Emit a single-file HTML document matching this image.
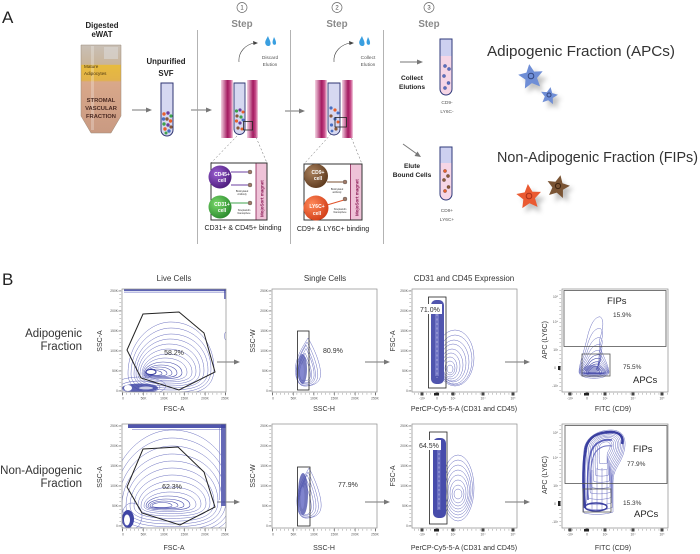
<!DOCTYPE html>
<html><head><meta charset="utf-8">
<style>
html,body{margin:0;padding:0;background:#fff;}
svg{display:block;font-family:"Liberation Sans",sans-serif;}
</style></head><body>
<svg width="700" height="554" viewBox="0 0 700 554" xmlns="http://www.w3.org/2000/svg">
<defs>
 <linearGradient id="mag" x1="0" x2="1" y1="0" y2="0">
  <stop offset="0" stop-color="#f3d2e2"/><stop offset="0.55" stop-color="#a3195f"/><stop offset="0.8" stop-color="#c9508c"/><stop offset="1" stop-color="#f3d2e2"/>
 </linearGradient>
 <linearGradient id="falc" x1="0" x2="0" y1="0" y2="1">
  <stop offset="0" stop-color="#c9c0b6"/><stop offset="0.22" stop-color="#c9b49a"/>
  <stop offset="0.23" stop-color="#e7bb3e"/><stop offset="0.4" stop-color="#e2b24a"/>
  <stop offset="0.42" stop-color="#d9a88a"/><stop offset="1" stop-color="#c99a82"/>
 </linearGradient>
 <radialGradient id="gPur" cx="0.35" cy="0.35" r="0.7"><stop offset="0" stop-color="#9a5ed0"/><stop offset="1" stop-color="#4c1c7c"/></radialGradient>
 <radialGradient id="gGrn" cx="0.35" cy="0.35" r="0.7"><stop offset="0" stop-color="#7ad86a"/><stop offset="1" stop-color="#2a8a2e"/></radialGradient>
 <radialGradient id="gBrn" cx="0.35" cy="0.35" r="0.7"><stop offset="0" stop-color="#a8805c"/><stop offset="1" stop-color="#5e3a1e"/></radialGradient>
 <radialGradient id="gOrg" cx="0.35" cy="0.35" r="0.7"><stop offset="0" stop-color="#ff8a5a"/><stop offset="1" stop-color="#d23e18"/></radialGradient>
 <filter id="blur" x="-50%" y="-50%" width="200%" height="200%"><feGaussianBlur stdDeviation="2.5"/></filter>
 <path id="egg" vector-effect="non-scaling-stroke" d="M-1,0 C-1,-0.6 -0.5,-1 0,-1 C0.6,-1 1,-0.6 1,-0.1 C1,0.3 0.6,0.4 0,0.4 C-0.6,0.4 -1,0.3 -1,0Z"/>
 <path id="tear" vector-effect="non-scaling-stroke" d="M0,-1 C0.3,-0.7 0.9,0 0.9,0.5 C0.9,0.9 0.3,1 -0.2,1 C-0.7,1 -0.9,0.7 -0.9,0.3 C-0.9,-0.2 -0.3,-0.7 0,-1Z"/>
 <path id="flame" vector-effect="non-scaling-stroke" d="M-1,0 C-1,-0.3 -0.7,-0.8 -0.5,-1.3 C-0.3,-1.9 0,-2.3 0.4,-2.3 C0.7,-2.2 0.6,-1.8 0.4,-1.4 C0.2,-1 0.9,-0.5 1,0 C1,0.35 -1,0.35 -1,0Z"/>
 <path id="star" d="M0,-1 L0.3,-0.38 L0.95,-0.31 L0.45,0.14 L0.59,0.81 L0,0.48 L-0.59,0.81 L-0.45,0.14 L-0.95,-0.31 L-0.3,-0.38 Z"/>
 <path id="cres" vector-effect="non-scaling-stroke" d="M584,513 C582,495 582,470 584,450 C585,438 597,430 611,430 C624,430 628,440 623,455 C619,466 613,470 613,482 L613,512 C605,515 592,515 584,513 Z"/>
 <clipPath id="c11"><rect x="122" y="289" width="104" height="103"/></clipPath>
 <clipPath id="c12"><rect x="272" y="289" width="105" height="103"/></clipPath>
 <clipPath id="c13"><rect x="412" y="289" width="105" height="103"/></clipPath>
 <clipPath id="c14"><rect x="562" y="289" width="106" height="103"/></clipPath>
 <clipPath id="c21"><rect x="122" y="424" width="104" height="104"/></clipPath>
 <clipPath id="c22"><rect x="272" y="424" width="105" height="104"/></clipPath>
 <clipPath id="c23"><rect x="412" y="424" width="105" height="104"/></clipPath>
 <clipPath id="c24"><rect x="562" y="424" width="106" height="104"/></clipPath>
</defs>
<rect width="700" height="554" fill="#fff"/>

<!-- ================= PART A ================= -->
<text x="2" y="23" font-size="17" fill="#222">A</text>

<text x="102" y="28" font-size="7.8" font-weight="bold" text-anchor="middle" fill="#222">Digested</text>
<text x="102" y="37" font-size="7.8" font-weight="bold" text-anchor="middle" fill="#222">eWAT</text>
<path d="M81,45 L121,45 L121,116 L111,133 L91,133 L81,116 Z" fill="url(#falc)" stroke="#9a8a7a" stroke-width="0.5"/>
<rect x="104" y="47" width="14" height="12" fill="#d8d4d0" opacity="0.7"/>
<rect x="91" y="46" width="3" height="84" fill="#fff" opacity="0.25"/>
<text x="84" y="68" font-size="4.6" fill="#4a3510">Mature</text>
<text x="84" y="75" font-size="4.6" fill="#4a3510">Adipocytes</text>
<text x="101" y="102" font-size="5.8" font-weight="bold" text-anchor="middle" fill="#4a2a22">STROMAL</text>
<text x="101" y="110" font-size="5.8" font-weight="bold" text-anchor="middle" fill="#4a2a22">VASCULAR</text>
<text x="101" y="118" font-size="5.8" font-weight="bold" text-anchor="middle" fill="#4a2a22">FRACTION</text>

<g stroke="#777" stroke-width="1" fill="#777">
 <line x1="132" y1="110" x2="148" y2="110"/><path d="M152,110 L146,107.5 L146,112.5Z" stroke="none"/>
 <line x1="191" y1="110" x2="208" y2="110"/><path d="M212,110 L206,107.5 L206,112.5Z" stroke="none"/>
 <line x1="285" y1="111" x2="301" y2="111"/><path d="M305,111 L299,108.5 L299,113.5Z" stroke="none"/>
 <line x1="400" y1="62" x2="418" y2="62"/><path d="M423,62 L417,59.5 L417,64.5Z" stroke="none"/>
 <line x1="403" y1="144" x2="417" y2="154"/><path d="M421,157 L414.5,156 L417.5,151.5Z" stroke="none"/>
</g>

<text x="166" y="64" font-size="7.8" font-weight="bold" text-anchor="middle" fill="#222">Unpurified</text>
<text x="166" y="76" font-size="7.8" font-weight="bold" text-anchor="middle" fill="#222">SVF</text>
<path d="M161,83 L161,130 A6,6 0 0 0 173,130 L173,83 Z" fill="#d6d8f1" stroke="#2f3572" stroke-width="1"/>
<g>
 <circle cx="164" cy="114" r="1.7" fill="#e8602c"/><circle cx="168" cy="113" r="1.7" fill="#6b3fa0"/><circle cx="171" cy="116" r="1.6" fill="#3fa34d"/>
 <circle cx="163.5" cy="119" r="1.7" fill="#4a6fc0"/><circle cx="167" cy="119" r="1.7" fill="#8a5a3a"/><circle cx="170.5" cy="121" r="1.7" fill="#e8602c"/>
 <circle cx="164" cy="124" r="1.7" fill="#3fa34d"/><circle cx="168" cy="125" r="1.7" fill="#6b3fa0"/><circle cx="171" cy="127" r="1.6" fill="#8a5a3a"/>
 <circle cx="165" cy="129" r="1.7" fill="#e8602c"/><circle cx="169" cy="131" r="1.7" fill="#4a6fc0"/><circle cx="166" cy="133" r="1.5" fill="#3fa34d"/>
</g>

<!-- dividers -->
<g stroke="#a0a0a0" stroke-width="0.8">
 <line x1="197.5" y1="30" x2="197.5" y2="244"/>
 <line x1="290.5" y1="30" x2="290.5" y2="244"/>
 <line x1="383.5" y1="30" x2="383.5" y2="244"/>
</g>

<!-- step headers -->
<g fill="none" stroke="#666" stroke-width="0.7">
 <circle cx="242" cy="7.5" r="5"/><circle cx="337" cy="7.5" r="5"/><circle cx="429" cy="7.5" r="5"/>
</g>
<g font-size="6" fill="#444" text-anchor="middle">
 <text x="242" y="9.7">1</text><text x="337" y="9.7">2</text><text x="429" y="9.7">3</text>
</g>
<g font-size="9.8" font-weight="bold" fill="#8a8a8a" text-anchor="middle">
 <text x="242" y="27">Step</text><text x="337" y="27">Step</text><text x="429" y="27">Step</text>
</g>

<!-- elution arrows & drops -->
<g fill="none" stroke="#444" stroke-width="0.6">
 <path d="M239,62 C238,52 246,44 255,43"/>
 <path d="M334,62 C333,52 341,44 351,43"/>
</g>
<path d="M258,43 L253,41 L253.5,45Z" fill="#444"/>
<path d="M354,43 L349,41 L349.5,45Z" fill="#444"/>
<g fill="#3a9fe0">
 <path d="M268,36 C266,40 264,42 266,45 C268,47 271,46 270.5,43 C270.5,41 269,39 268,36Z"/>
 <path d="M274,37 C273,40 272,42 273,44 C274,45.5 276.5,45 276,42.5 C276,41 275,39 274,37Z"/>
 <path d="M362,36 C360,40 358,42 360,45 C362,47 365,46 364.5,43 C364.5,41 363,39 362,36Z"/>
 <path d="M368,37 C367,40 366,42 367,44 C368,45.5 370.5,45 370,42.5 C370,41 369,39 368,37Z"/>
</g>
<g font-size="4.8" fill="#555" text-anchor="middle">
 <text x="270" y="59">Discard</text><text x="270" y="66">Elution</text>
 <text x="368" y="59">Collect</text><text x="368" y="66">Elution</text>
</g>

<!-- Step 1 magnet -->
<rect x="221" y="80" width="12" height="58" fill="url(#mag)"/>
<rect x="247" y="80" width="11" height="58" fill="url(#mag)"/>
<path d="M234,83 L234,129 A5.5,5.5 0 0 0 245,129 L245,83 Z" fill="#d6d8f1" stroke="#2f3572" stroke-width="0.9"/>
<g>
 <circle cx="236.5" cy="111" r="1.6" fill="#3fa34d"/><circle cx="240" cy="110" r="1.6" fill="#6b3fa0"/><circle cx="243" cy="112" r="1.5" fill="#e8602c"/>
 <circle cx="237" cy="116" r="1.6" fill="#8a5a3a"/><circle cx="241" cy="117" r="1.6" fill="#3fa34d"/><circle cx="236.5" cy="121" r="1.6" fill="#e8602c"/>
 <circle cx="240" cy="123" r="1.6" fill="#6b3fa0"/><circle cx="243" cy="120" r="1.5" fill="#4a6fc0"/><circle cx="238" cy="128" r="1.6" fill="#8a5a3a"/><circle cx="242" cy="129" r="1.5" fill="#e8602c"/>
</g>
<rect x="243.5" y="121.5" width="9" height="8.5" fill="none" stroke="#222" stroke-width="0.8"/>
<g stroke="#666" stroke-width="0.5" stroke-dasharray="2 2">
 <line x1="237" y1="136" x2="211" y2="163"/><line x1="253" y1="130" x2="267" y2="163"/>
 <line x1="331" y1="134" x2="304" y2="164"/><line x1="347" y1="127" x2="362" y2="164"/>
</g>

<!-- zoom box 1 -->
<rect x="211" y="163" width="56" height="57" fill="#fff" stroke="#333" stroke-width="1"/>
<rect x="256" y="163.5" width="10.5" height="56" fill="#efc3d8"/>
<line x1="256" y1="163.5" x2="256" y2="219.5" stroke="#8a1a50" stroke-width="0.8"/>
<text transform="translate(263.5,217) rotate(-90)" font-size="4.5" font-weight="bold" fill="#8a1a55">MojoSort magnet</text>
<g stroke="#6b3fa0" stroke-width="1.1"><line x1="231" y1="172" x2="248" y2="172"/><line x1="231" y1="185" x2="248" y2="185"/></g>
<g stroke="#3fa34d" stroke-width="1.1"><line x1="231" y1="203" x2="248" y2="203"/></g>
<g fill="#a07a68" stroke="#555" stroke-width="0.4"><circle cx="250" cy="172" r="2"/><circle cx="250" cy="185" r="2"/><circle cx="250" cy="203" r="2"/></g>
<circle cx="220" cy="177" r="11.5" fill="url(#gPur)"/>
<circle cx="220" cy="207" r="11.5" fill="url(#gGrn)"/>
<g font-size="5" font-weight="bold" fill="#fff" text-anchor="middle">
 <text x="222" y="176">CD45+</text><text x="222" y="182">cell</text>
 <text x="222" y="206">CD31+</text><text x="222" y="212">cell</text>
</g>
<g font-size="2.4" fill="#333" text-anchor="middle">
 <text x="242" y="192">Biotinylated</text><text x="242" y="195">Antibody</text>
 <text x="244" y="211">Streptavidin</text><text x="244" y="214">Nanosphere</text>
</g>
<text x="243" y="230" font-size="7" text-anchor="middle" fill="#222">CD31+ &amp; CD45+ binding</text>

<!-- Step 2 magnet -->
<rect x="315" y="80" width="12" height="58" fill="url(#mag)"/>
<rect x="342" y="80" width="11" height="58" fill="url(#mag)"/>
<path d="M328,83 L328,129 A6,6 0 0 0 340,129 L340,83 Z" fill="#d6d8f1" stroke="#2f3572" stroke-width="0.9"/>
<g>
 <circle cx="331" cy="108" r="1.6" fill="#4a6fc0"/><circle cx="335" cy="110" r="1.6" fill="#e8602c"/><circle cx="338" cy="113" r="1.5" fill="#4a6fc0"/>
 <circle cx="331" cy="116" r="1.6" fill="#8a5a3a"/><circle cx="335" cy="119" r="1.6" fill="#4a6fc0"/><circle cx="338" cy="122" r="1.5" fill="#e8602c"/>
 <circle cx="331.5" cy="125" r="1.6" fill="#4a6fc0"/><circle cx="336" cy="129" r="1.6" fill="#8a5a3a"/><circle cx="332" cy="131" r="1.4" fill="#4a6fc0"/>
</g>
<rect x="335" y="117.5" width="11.5" height="9.5" fill="none" stroke="#222" stroke-width="0.8"/>

<!-- zoom box 2 -->
<rect x="304" y="164" width="58" height="56" fill="#fff" stroke="#333" stroke-width="1"/>
<rect x="350.5" y="164.5" width="11" height="55" fill="#efc3d8"/>
<line x1="350.5" y1="164.5" x2="350.5" y2="219.5" stroke="#8a1a50" stroke-width="0.8"/>
<text transform="translate(358.5,216) rotate(-90)" font-size="4.5" font-weight="bold" fill="#8a1a55">MojoSort magnet</text>
<g stroke="#7a4f2f" stroke-width="1.1"><line x1="327" y1="182" x2="344" y2="182"/></g>
<g stroke="#e0532a" stroke-width="1.1"><line x1="327" y1="205" x2="344" y2="200"/></g>
<g fill="#a07a68" stroke="#555" stroke-width="0.4"><circle cx="345" cy="182" r="2"/><circle cx="345" cy="199" r="2"/></g>
<circle cx="316" cy="176" r="12" fill="url(#gBrn)"/>
<circle cx="316" cy="208" r="12.5" fill="url(#gOrg)"/>
<g font-size="5" font-weight="bold" fill="#fff" text-anchor="middle">
 <text x="318" y="174">CD9+</text><text x="318" y="180">cell</text>
 <text x="317" y="208">LY6C+</text><text x="317" y="215">cell</text>
</g>
<g font-size="2.4" fill="#333" text-anchor="middle">
 <text x="337" y="190">Biotinylated</text><text x="337" y="193">antibody</text>
 <text x="340" y="210">Streptavidin</text><text x="340" y="213">Nanosphere</text>
</g>
<text x="333" y="231" font-size="7" text-anchor="middle" fill="#222">CD9+ &amp; LY6C+ binding</text>

<!-- Step 3 -->
<g font-size="6.6" font-weight="bold" text-anchor="middle" fill="#222">
 <text x="412" y="80">Collect</text><text x="412" y="89">Elutions</text>
 <text x="412" y="168">Elute</text><text x="412" y="177">Bound Cells</text>
</g>
<path d="M440,39 L440,89 A6,6 0 0 0 452,89 L452,39 Z" fill="#cdd0f0"/>
<path d="M440,56 L440,89 A6,6 0 0 0 452,89 L452,56 Z" fill="#f6d6e6"/>
<path d="M440,39 L440,89 A6,6 0 0 0 452,89 L452,39 Z" fill="none" stroke="#2f3a7a" stroke-width="1"/>
<g fill="#5a6fc0" stroke="#2f3a7a" stroke-width="0.3">
 <circle cx="445" cy="66" r="1.6"/><circle cx="449" cy="69" r="1.6"/><circle cx="444" cy="76" r="1.6"/><circle cx="448.5" cy="83" r="1.6"/><circle cx="445" cy="88" r="1.6"/>
</g>
<path d="M440,147 L440,194 A6,6 0 0 0 452,194 L452,147 Z" fill="#cdd0f0"/>
<path d="M440,163 L440,194 A6,6 0 0 0 452,194 L452,163 Z" fill="#f6d6e6"/>
<path d="M440,147 L440,194 A6,6 0 0 0 452,194 L452,147 Z" fill="none" stroke="#2f3a7a" stroke-width="1"/>
<g stroke="#3a2a20" stroke-width="0.3">
 <circle cx="445" cy="171" r="1.6" fill="#e8602c"/><circle cx="448" cy="176" r="1.6" fill="#8a5a3a"/><circle cx="444" cy="180" r="1.6" fill="#8a5a3a"/><circle cx="448.5" cy="187" r="1.6" fill="#8a5a3a"/><circle cx="445" cy="191" r="1.6" fill="#e8602c"/>
</g>
<g font-size="4.8" fill="#555" text-anchor="middle">
 <text x="447" y="104">CD9-</text><text x="447" y="113">LY6C-</text>
 <text x="447" y="212">CD9+</text><text x="447" y="221">LY6C+</text>
</g>

<text x="487" y="56" font-size="14.5" fill="#333" textLength="188" lengthAdjust="spacingAndGlyphs">Adipogenic Fraction (APCs)</text>
<text x="497" y="162" font-size="14.5" fill="#333" textLength="201" lengthAdjust="spacingAndGlyphs">Non-Adipogenic Fraction (FIPs)</text>

<!-- cells (stars) -->
<g fill="#777" opacity="0.45" filter="url(#blur)">
 <use href="#star" transform="translate(535,82) scale(13)"/>
 <use href="#star" transform="translate(553,101) scale(9)"/>
 <use href="#star" transform="translate(533,202) scale(13)"/>
 <use href="#star" transform="translate(562,192) scale(12)"/>
</g>
<use href="#star" transform="translate(531,77) rotate(-8) scale(13)" fill="#6f8ed6"/>
<use href="#star" transform="translate(549,96) rotate(10) scale(9)" fill="#6f8ed6"/>
<use href="#star" transform="translate(529,197) rotate(-5) scale(13)" fill="#ea5a32"/>
<use href="#star" transform="translate(558,187) rotate(12) scale(12)" fill="#7a5434"/>
<g fill="none" stroke-width="1">
 <circle cx="531" cy="76" r="2.8" stroke="#33467e"/><circle cx="549" cy="95" r="2" stroke="#33467e"/>
 <circle cx="529" cy="196" r="2.8" stroke="#a8301a"/><circle cx="558" cy="186" r="2.6" stroke="#3e2410"/>
</g>

<!-- ================= PART B ================= -->
<text x="2" y="285" font-size="17" fill="#222">B</text>

<g font-size="11.5" fill="#333" text-anchor="end">
 <text x="82" y="337">Adipogenic</text><text x="82" y="350">Fraction</text>
 <text x="82" y="474">Non-Adipogenic</text><text x="82" y="487">Fraction</text>
</g>

<g font-size="8" fill="#333" text-anchor="middle">
 <text x="174" y="281">Live Cells</text>
 <text x="325" y="281">Single Cells</text>
 <text x="464" y="281">CD31 and CD45 Expression</text>
</g>

<!-- axis labels -->
<g font-size="7" fill="#333" text-anchor="middle">
 <text x="174" y="411">FSC-A</text><text x="324" y="411">SSC-H</text><text x="464" y="411">PerCP-Cy5-5-A (CD31 and CD45)</text><text x="613" y="411">FITC (CD9)</text>
 <text x="174" y="550">FSC-A</text><text x="324" y="550">SSC-H</text><text x="464" y="550">PerCP-Cy5-5-A (CD31 and CD45)</text><text x="613" y="550">FITC (CD9)</text>
 <text transform="translate(102,341) rotate(-90)">SSC-A</text>
 <text transform="translate(255,341) rotate(-90)">SSC-W</text>
 <text transform="translate(395,341) rotate(-90)">FSC-A</text>
 <text transform="translate(547,340) rotate(-90)">APC (LY6C)</text>
 <text transform="translate(102,477) rotate(-90)">SSC-A</text>
 <text transform="translate(255,476) rotate(-90)">SSC-W</text>
 <text transform="translate(395,476) rotate(-90)">FSC-A</text>
 <text transform="translate(547,475) rotate(-90)">APC (LY6C)</text>
</g>

<!-- arrows B -->
<g stroke="#777" stroke-width="1" fill="#777">
 <line x1="217" y1="362" x2="235" y2="362"/><path d="M240,362 L234,359.5 L234,364.5Z" stroke="none"/>
 <line x1="365" y1="362" x2="385" y2="362"/><path d="M390,362 L384,359.5 L384,364.5Z" stroke="none"/>
 <line x1="505" y1="362" x2="525" y2="362"/><path d="M530,362 L524,359.5 L524,364.5Z" stroke="none"/>
 <line x1="217" y1="502" x2="235" y2="502"/><path d="M240,502 L234,499.5 L234,504.5Z" stroke="none"/>
 <line x1="365" y1="502" x2="385" y2="502"/><path d="M390,502 L384,499.5 L384,504.5Z" stroke="none"/>
 <line x1="505" y1="502" x2="525" y2="502"/><path d="M530,502 L524,499.5 L524,504.5Z" stroke="none"/>
</g>

<!-- ===== Plot contents row 1 ===== -->
<g clip-path="url(#c11)">
 <rect x="124" y="289" width="102" height="2.2" fill="#4046a6" opacity="0.85"/>
 <line x1="124" y1="292.5" x2="226" y2="292.5" stroke="#7a7fc8" stroke-width="0.5"/>
 <rect x="224" y="289" width="2" height="10" fill="#4046a6" opacity="0.7"/>
 <ellipse cx="226" cy="336" rx="1.5" ry="4" fill="none" stroke="#6166bb" stroke-width="0.5"/>
 <g fill="none" stroke="#6a6fc0" stroke-width="0.5">
  <use href="#egg" transform="translate(171,374) scale(43,52)"/>
  <use href="#egg" transform="translate(171,374) scale(40,46)"/>
  <use href="#egg" transform="translate(171,374) scale(37,40)"/>
  <use href="#egg" transform="translate(170,374) scale(34,35)"/>
  <use href="#egg" transform="translate(169,374) scale(31,30)"/>
  <use href="#egg" transform="translate(168,374) scale(28,25)"/>
  <use href="#egg" transform="translate(167,374) scale(25,20)"/>
  <use href="#egg" transform="translate(165,374) scale(22,16)"/>
 </g>
 <g fill="none" stroke="#4c51ad" stroke-width="0.6">
  <use href="#egg" transform="translate(163,374) scale(19,12)"/>
  <use href="#egg" transform="translate(161,374) scale(16,9)"/>
  <use href="#egg" transform="translate(159,374) scale(13,7)"/>
  <use href="#egg" transform="translate(157,374) scale(10,5)"/>
  <use href="#egg" transform="translate(155,374) scale(7,3.5)"/>
 </g>
 <ellipse cx="151" cy="372" rx="5" ry="2.6" fill="#fff" stroke="#3c41a0" stroke-width="1.1"/>
 <ellipse cx="140" cy="386" rx="26" ry="9" fill="none" stroke="#6a6fc0" stroke-width="0.5"/>
 <ellipse cx="140" cy="387" rx="20" ry="6" fill="none" stroke="#5257b2" stroke-width="0.5"/>
 <ellipse cx="140" cy="388" rx="18" ry="4.5" fill="#4046a6" opacity="0.85"/>
 <ellipse cx="128" cy="388" rx="4" ry="3" fill="#fff"/>
 <ellipse cx="146" cy="388" rx="7" ry="1.5" fill="#fff" opacity="0.7"/>
</g>
<path d="M143,314 L179,312 L204,333 L215,372 L179,390 L141,378 L127,350 Z" fill="none" stroke="#222" stroke-width="1"/>
<text x="174" y="355" font-size="7" text-anchor="middle" fill="#333">58.2%</text>

<g clip-path="url(#c12)">
 <g fill="none" stroke="#6a6fc0" stroke-width="0.5">
  <use href="#tear" transform="translate(308,362) scale(14,24)"/>
  <use href="#tear" transform="translate(307,364) scale(12,22)"/>
  <use href="#tear" transform="translate(306,365) scale(10.5,20)"/>
  <use href="#tear" transform="translate(306,366) scale(9,17.5)"/>
  <use href="#tear" transform="translate(305,368) scale(7.5,15)"/>
  <use href="#tear" transform="translate(305,369) scale(6,12)"/>
 </g>
 <ellipse cx="302.5" cy="369" rx="4.5" ry="15" fill="#4f54ad" opacity="0.75"/>
 <ellipse cx="302" cy="372" rx="2" ry="8" fill="#8a8ed8" opacity="0.6"/>
</g>
<rect x="297.5" y="331" width="11.5" height="59" fill="none" stroke="#222" stroke-width="0.8"/>
<text x="323" y="353" font-size="7" fill="#333">80.9%</text>

<g clip-path="url(#c13)">
 <g fill="none" stroke="#6a6fc0" stroke-width="0.5">
  <ellipse cx="455" cy="358" rx="19" ry="28"/>
  <ellipse cx="455" cy="360" rx="17" ry="25"/>
  <ellipse cx="454" cy="362" rx="15" ry="22"/>
  <ellipse cx="453" cy="363" rx="13" ry="19"/>
  <ellipse cx="452" cy="365" rx="11" ry="16"/>
  <ellipse cx="451" cy="366" rx="9" ry="13"/>
  <ellipse cx="450" cy="367" rx="7" ry="10"/>
  <ellipse cx="450" cy="368" rx="5" ry="7"/>
  <ellipse cx="450" cy="369" rx="3" ry="4"/>
 </g>
 <rect x="431" y="300" width="13" height="84" rx="5" fill="#5055ae"/>
 <rect x="435" y="306" width="4" height="70" fill="#8c90d8" opacity="0.55"/>
 <line x1="437" y1="305" x2="437" y2="378" stroke="#fff" stroke-width="0.4" stroke-dasharray="2 2.5"/>
</g>
<rect x="428.5" y="297" width="17.5" height="91" fill="none" stroke="#222" stroke-width="0.8"/>
<rect x="419" y="304" width="23" height="10" fill="#fff"/>
<text x="420" y="312" font-size="7" fill="#333">71.0%</text>

<g clip-path="url(#c14)">
 <g fill="none" stroke="#6a6fc0" stroke-width="0.5">
  <use href="#flame" transform="translate(594,372) scale(15,24)"/>
  <use href="#flame" transform="translate(594,372) scale(14.5,19)"/>
  <use href="#flame" transform="translate(594,372) scale(14,15)"/>
  <use href="#flame" transform="translate(594,372) scale(13.5,12)"/>
  <use href="#flame" transform="translate(594,372) scale(13,9.5)"/>
 </g>
 <g fill="none" stroke="#4c51ad" stroke-width="0.6">
  <use href="#flame" transform="translate(594,372) scale(12,7.5)"/>
  <use href="#flame" transform="translate(594,372) scale(11,6)"/>
  <use href="#flame" transform="translate(594,372) scale(9.5,4.5)"/>
  <use href="#flame" transform="translate(594,372) scale(8,3.5)"/>
  <use href="#flame" transform="translate(594,372) scale(6,2.5)"/>
 </g>
 <ellipse cx="592" cy="369" rx="8" ry="4" fill="#5055ae" opacity="0.55"/>
</g>
<rect x="564" y="290.5" width="102" height="56" fill="none" stroke="#555" stroke-width="0.8"/>
<rect x="582" y="354" width="28" height="22" fill="none" stroke="#555" stroke-width="0.8"/>
<text x="607" y="304" font-size="9.5" fill="#222">FIPs</text>
<text x="613" y="317" font-size="6.5" fill="#333">15.9%</text>
<text x="623" y="369" font-size="6.5" fill="#333">75.5%</text>
<text x="633" y="383" font-size="9.5" fill="#222">APCs</text>

<!-- ===== Plot contents row 2 ===== -->
<g clip-path="url(#c21)">
 <rect x="128" y="424" width="99" height="4" fill="#3e44a4" opacity="0.9"/>
 <line x1="132" y1="429.5" x2="222" y2="429.5" stroke="#6a6fc0" stroke-width="0.5"/>
 <rect x="221" y="424" width="6" height="82" fill="#3e44a4" opacity="0.8"/>
 <line x1="219.5" y1="428" x2="219.5" y2="500" stroke="#6a6fc0" stroke-width="0.5"/>
 <g fill="none" stroke="#6a6fc0" stroke-width="0.5">
  <use href="#egg" transform="translate(172,506) scale(62,76)"/>
  <use href="#egg" transform="translate(172,506) scale(58,68)"/>
  <use href="#egg" transform="translate(172,506) scale(54,60)"/>
  <use href="#egg" transform="translate(172,506) scale(50,52)"/>
  <use href="#egg" transform="translate(172,506) scale(46,45)"/>
  <use href="#egg" transform="translate(172,506) scale(42,38)"/>
  <use href="#egg" transform="translate(172,506) scale(38,31)"/>
  <use href="#egg" transform="translate(172,506) scale(34,25)"/>
  <use href="#egg" transform="translate(171,506) scale(30,19)"/>
  <use href="#egg" transform="translate(170,506) scale(26,14)"/>
 </g>
 <g fill="none" stroke="#4c51ad" stroke-width="0.6">
  <use href="#egg" transform="translate(168,506) scale(22,10)"/>
  <use href="#egg" transform="translate(166,506) scale(18,7)"/>
  <use href="#egg" transform="translate(164,506) scale(14,5)"/>
  <use href="#egg" transform="translate(162,506) scale(10,3.5)"/>
 </g>
 <ellipse cx="128" cy="519" rx="6" ry="9" fill="#3e44a4"/>
 <ellipse cx="127" cy="520" rx="3" ry="5.5" fill="#fff"/>
 <ellipse cx="132" cy="516" rx="10" ry="13" fill="none" stroke="#6a6fc0" stroke-width="0.5"/>
</g>
<path d="M143,449 L178,447 L204,472 L215,507 L180,525 L142,513 L127,487 Z" fill="none" stroke="#222" stroke-width="1"/>
<text x="172" y="489" font-size="7" text-anchor="middle" fill="#333">62.3%</text>

<g clip-path="url(#c22)">
 <g fill="none" stroke="#6a6fc0" stroke-width="0.5">
  <use href="#tear" transform="translate(309,493) scale(13.5,25)"/>
  <use href="#tear" transform="translate(308,495) scale(11.5,23)"/>
  <use href="#tear" transform="translate(307,496) scale(10,21)"/>
  <use href="#tear" transform="translate(306,497) scale(8.5,18.5)"/>
  <use href="#tear" transform="translate(305,499) scale(7,16)"/>
 </g>
 <ellipse cx="303" cy="494" rx="5" ry="21" fill="#4f54ad" opacity="0.8"/>
 <ellipse cx="302.5" cy="498" rx="2" ry="11" fill="#8a8ed8" opacity="0.6"/>
</g>
<rect x="297.5" y="467" width="12.5" height="59" fill="none" stroke="#222" stroke-width="0.8"/>
<text x="338" y="487" font-size="7" fill="#333">77.9%</text>

<g clip-path="url(#c23)">
 <g fill="none" stroke="#6a6fc0" stroke-width="0.5">
  <ellipse cx="458" cy="488" rx="16" ry="33"/>
  <ellipse cx="458" cy="489" rx="14.5" ry="29"/>
  <ellipse cx="458" cy="490" rx="13" ry="25"/>
  <ellipse cx="458" cy="491" rx="11.5" ry="21"/>
  <ellipse cx="458" cy="492" rx="10" ry="17"/>
  <ellipse cx="458" cy="493" rx="8" ry="13"/>
  <ellipse cx="458" cy="494" rx="6" ry="9"/>
  <ellipse cx="458" cy="494" rx="4" ry="5"/>
 </g>
 <rect x="433" y="438" width="13" height="80" rx="5" fill="#474cab"/>
 <rect x="437" y="444" width="3.5" height="66" fill="#8c90d8" opacity="0.5"/>
 <line x1="439" y1="444" x2="439" y2="510" stroke="#fff" stroke-width="0.4" stroke-dasharray="2 2.5"/>
</g>
<rect x="429.5" y="432" width="17.5" height="92" fill="none" stroke="#222" stroke-width="0.8"/>
<rect x="418" y="440" width="23" height="10" fill="#fff"/>
<text x="419" y="448" font-size="7" fill="#333">64.5%</text>

<g clip-path="url(#c24)">
 <g fill="none" stroke="#6a6fc0" stroke-width="0.5">
  <use href="#cres"/>
  <use href="#cres" transform="translate(605,446) scale(0.93) translate(-605,-446)"/>
  <use href="#cres" transform="translate(605,446) scale(0.86) translate(-605,-446)"/>
  <use href="#cres" transform="translate(605,446) scale(0.78) translate(-605,-446)"/>
  <use href="#cres" transform="translate(605,446) scale(0.70) translate(-605,-446)"/>
  <use href="#cres" transform="translate(605,446) scale(0.62) translate(-605,-446)"/>
  <use href="#cres" transform="translate(605,446) scale(0.53) translate(-605,-446)"/>
  <use href="#cres" transform="translate(605,446) scale(0.44) translate(-605,-446)"/>
  <use href="#cres" transform="translate(605,446) scale(0.35) translate(-605,-446)"/>
  <use href="#cres" transform="translate(605,446) scale(0.26) translate(-605,-446)"/>
  <line x1="592" y1="470" x2="592" y2="510"/><line x1="597" y1="468" x2="597" y2="511"/>
  <line x1="602" y1="468" x2="602" y2="511"/><line x1="607" y1="470" x2="607" y2="510"/>
 </g>
 <path d="M585,508 C583,485 583,462 586,447 C589,437 598,432 611,432 C620,432 624,437 622,444" fill="none" stroke="#3a3fa0" stroke-width="2.6"/>
 <path d="M588,500 C587,480 588,462 591,452 C594,443 602,439 612,440" fill="none" stroke="#5a5fb8" stroke-width="1.6"/>
 <path d="M591,490 C590,475 591,462 594,455 C597,448 604,445 612,446" fill="none" stroke="#6a6fc0" stroke-width="1"/>
 <ellipse cx="596" cy="507" rx="11" ry="4" fill="none" stroke="#3a3fa0" stroke-width="1.4"/>
</g>
<rect x="565" y="425.5" width="102" height="58" fill="none" stroke="#555" stroke-width="0.8"/>
<rect x="583" y="489" width="28" height="23" fill="none" stroke="#555" stroke-width="0.8"/>
<text x="633" y="452" font-size="9.5" fill="#222">FIPs</text>
<text x="627" y="466" font-size="6.5" fill="#333">77.9%</text>
<text x="623" y="505" font-size="6.5" fill="#333">15.3%</text>
<text x="634" y="517" font-size="9.5" fill="#222">APCs</text>

<!-- ===== frames, ticks ===== -->
<g fill="none" stroke="#8c8c8c" stroke-width="0.7">
 <rect x="122" y="289" width="104" height="103"/><rect x="272" y="289" width="105" height="103"/>
 <rect x="412" y="289" width="105" height="103"/><rect x="562" y="289" width="106" height="103"/>
 <rect x="122" y="424" width="104" height="104"/><rect x="272" y="424" width="105" height="104"/>
 <rect x="412" y="424" width="105" height="104"/><rect x="562" y="424" width="106" height="104"/>
</g>
<g stroke="#777" stroke-width="1.8" stroke-dasharray="0.4 3.72">
 <line x1="122" y1="393.8" x2="226" y2="393.8"/><line x1="272" y1="393.8" x2="377" y2="393.8"/>
 <line x1="414" y1="393.8" x2="517" y2="393.8"/><line x1="564" y1="393.8" x2="668" y2="393.8"/>
 <line x1="122" y1="529.8" x2="226" y2="529.8"/><line x1="272" y1="529.8" x2="377" y2="529.8"/>
 <line x1="414" y1="529.8" x2="517" y2="529.8"/><line x1="564" y1="529.8" x2="668" y2="529.8"/>
</g>
<g stroke="#777" stroke-width="1.8" stroke-dasharray="0.4 3.6">
 <line x1="120.2" y1="391" x2="120.2" y2="289"/><line x1="270.2" y1="391" x2="270.2" y2="289"/>
 <line x1="410.2" y1="391" x2="410.2" y2="289"/><line x1="560.2" y1="391" x2="560.2" y2="289"/>
 <line x1="120.2" y1="526" x2="120.2" y2="424"/><line x1="270.2" y1="526" x2="270.2" y2="424"/>
 <line x1="410.2" y1="526" x2="410.2" y2="424"/><line x1="560.2" y1="526" x2="560.2" y2="424"/>
</g>
<g stroke="#444" stroke-width="3" stroke-dasharray="0.5 20.1">
 <line x1="122.5" y1="394" x2="227" y2="394"/><line x1="272.5" y1="394" x2="378" y2="394"/>
 <line x1="122.5" y1="530" x2="227" y2="530"/><line x1="272.5" y1="530" x2="378" y2="530"/>
</g>
<g stroke="#444" stroke-width="3" stroke-dasharray="0.5 19.5">
 <line x1="119.8" y1="391.3" x2="119.8" y2="288"/><line x1="269.8" y1="391.3" x2="269.8" y2="288"/><line x1="409.8" y1="391.3" x2="409.8" y2="288"/>
 <line x1="119.8" y1="526.3" x2="119.8" y2="423"/><line x1="269.8" y1="526.3" x2="269.8" y2="423"/><line x1="409.8" y1="526.3" x2="409.8" y2="423"/>
</g>
<g stroke="#444" stroke-width="3">
 <line x1="422" y1="392.5" x2="422" y2="395.5"/><line x1="437" y1="392.5" x2="437" y2="395.5"/><line x1="453" y1="392.5" x2="453" y2="395.5"/><line x1="483" y1="392.5" x2="483" y2="395.5"/><line x1="513" y1="392.5" x2="513" y2="395.5"/>
 <line x1="570" y1="392.5" x2="570" y2="395.5"/><line x1="587" y1="392.5" x2="587" y2="395.5"/><line x1="605" y1="392.5" x2="605" y2="395.5"/><line x1="633" y1="392.5" x2="633" y2="395.5"/><line x1="662" y1="392.5" x2="662" y2="395.5"/>
 <line x1="422" y1="528.5" x2="422" y2="531.5"/><line x1="437" y1="528.5" x2="437" y2="531.5"/><line x1="453" y1="528.5" x2="453" y2="531.5"/><line x1="483" y1="528.5" x2="483" y2="531.5"/><line x1="513" y1="528.5" x2="513" y2="531.5"/>
 <line x1="570" y1="528.5" x2="570" y2="531.5"/><line x1="587" y1="528.5" x2="587" y2="531.5"/><line x1="605" y1="528.5" x2="605" y2="531.5"/><line x1="633" y1="528.5" x2="633" y2="531.5"/><line x1="662" y1="528.5" x2="662" y2="531.5"/>
</g>
<g fill="#222">
 <rect x="434" y="393" width="5" height="2.5"/><rect x="584" y="393" width="5" height="2.5"/><rect x="558" y="366" width="2.5" height="4"/>
 <rect x="434" y="529" width="5" height="2.5"/><rect x="584" y="529" width="5" height="2.5"/><rect x="558" y="501" width="2.5" height="5"/>
</g>

<g font-size="3.3" fill="#555" text-anchor="end">
 <text x="118" y="392">0</text><text x="118" y="372">50K</text><text x="118" y="352">100K</text><text x="118" y="332">150K</text><text x="118" y="312">200K</text><text x="118" y="292">250K</text>
 <text x="268" y="392">0</text><text x="268" y="372">50K</text><text x="268" y="352">100K</text><text x="268" y="332">150K</text><text x="268" y="312">200K</text><text x="268" y="292">250K</text>
 <text x="408" y="392">0</text><text x="408" y="372">50K</text><text x="408" y="352">100K</text><text x="408" y="332">150K</text><text x="408" y="312">200K</text><text x="408" y="292">250K</text>
 <text x="558" y="298">10⁵</text><text x="558" y="323">10⁴</text><text x="558" y="351">10³</text><text x="556" y="369">0</text><text x="558" y="387">-10³</text>
 <text x="118" y="527">0</text><text x="118" y="507">50K</text><text x="118" y="487">100K</text><text x="118" y="467">150K</text><text x="118" y="447">200K</text><text x="118" y="427">250K</text>
 <text x="268" y="527">0</text><text x="268" y="507">50K</text><text x="268" y="487">100K</text><text x="268" y="467">150K</text><text x="268" y="447">200K</text><text x="268" y="427">250K</text>
 <text x="408" y="527">0</text><text x="408" y="507">50K</text><text x="408" y="487">100K</text><text x="408" y="467">150K</text><text x="408" y="447">200K</text><text x="408" y="427">250K</text>
 <text x="558" y="434">10⁵</text><text x="558" y="459">10⁴</text><text x="558" y="487">10³</text><text x="556" y="505">0</text><text x="558" y="523">-10³</text>
</g>
<g font-size="3.3" fill="#555" text-anchor="middle">
 <text x="123" y="399.5">0</text><text x="143.5" y="399.5">50K</text><text x="164" y="399.5">100K</text><text x="184.5" y="399.5">150K</text><text x="205" y="399.5">200K</text><text x="225" y="399.5">250K</text>
 <text x="273" y="399.5">0</text><text x="293.5" y="399.5">50K</text><text x="314" y="399.5">100K</text><text x="334.5" y="399.5">150K</text><text x="355" y="399.5">200K</text><text x="375" y="399.5">250K</text>
 <text x="422" y="399.5">-10³</text><text x="437" y="399.5">0</text><text x="453" y="399.5">10³</text><text x="483" y="399.5">10⁴</text><text x="513" y="399.5">10⁵</text>
 <text x="570" y="399.5">-10³</text><text x="587" y="399.5">0</text><text x="605" y="399.5">10³</text><text x="633" y="399.5">10⁴</text><text x="662" y="399.5">10⁵</text>
 <text x="123" y="535.5">0</text><text x="143.5" y="535.5">50K</text><text x="164" y="535.5">100K</text><text x="184.5" y="535.5">150K</text><text x="205" y="535.5">200K</text><text x="225" y="535.5">250K</text>
 <text x="273" y="535.5">0</text><text x="293.5" y="535.5">50K</text><text x="314" y="535.5">100K</text><text x="334.5" y="535.5">150K</text><text x="355" y="535.5">200K</text><text x="375" y="535.5">250K</text>
 <text x="422" y="535.5">-10³</text><text x="437" y="535.5">0</text><text x="453" y="535.5">10³</text><text x="483" y="535.5">10⁴</text><text x="513" y="535.5">10⁵</text>
 <text x="570" y="535.5">-10³</text><text x="587" y="535.5">0</text><text x="605" y="535.5">10³</text><text x="633" y="535.5">10⁴</text><text x="662" y="535.5">10⁵</text>
</g>
</svg>
</body></html>
